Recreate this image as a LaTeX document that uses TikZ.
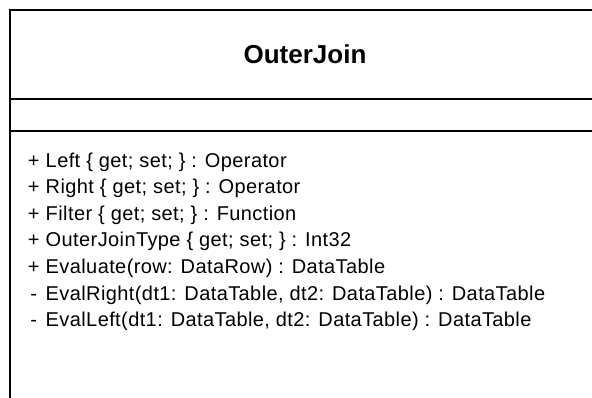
\documentclass[tikz,border=0pt]{standalone}
\usepackage{fontspec}
\setmainfont{Liberation Sans}
\newfontfamily\memberfont[LetterSpace=2]{Liberation Sans}
\usepackage{tikz}

\newcommand{\vis}[1]{\makebox[12pt][c]{#1} }

\begin{document}
\begin{tikzpicture}[x=1pt, y=-1pt, line width=1.6pt, every node/.style={inner sep=0pt, font=\memberfont\fontsize{20}{24}\selectfont}]
\useasboundingbox (0,0) rectangle (592,398);
\node (title) at (305,54) {\normalfont\fontsize{26}{30}\selectfont\bfseries OuterJoin};
\node[anchor=west] (left) at (27,162) {\vis{+}Left \{ get; set; \} : Operator};
\node[anchor=west] (right) at (27,188.6) {\vis{+}Right \{ get; set; \} : Operator};
\node[anchor=west] (filter) at (27,215.2) {\vis{+}Filter \{ get; set; \} : Function};
\node[anchor=west] (jointype) at (27,241.8) {\vis{+}OuterJoinType \{ get; set; \} : Int32};
\node[anchor=west] (evaluate) at (27,268.4) {\vis{+}Evaluate(row: DataRow) : DataTable};
\node[anchor=west] (evalright) at (27,295) {\vis{-}EvalRight(dt1: DataTable, dt2: DataTable) : DataTable};
\node[anchor=west] (evalleft) at (27,321.6) {\vis{-}EvalLeft(dt1: DataTable, dt2: DataTable) : DataTable};
\draw (10,398) -- (10,10) -- (592,10);
\draw (10,99) -- (592,99);
\draw (10,131) -- (592,131);
\end{tikzpicture}
\end{document}
